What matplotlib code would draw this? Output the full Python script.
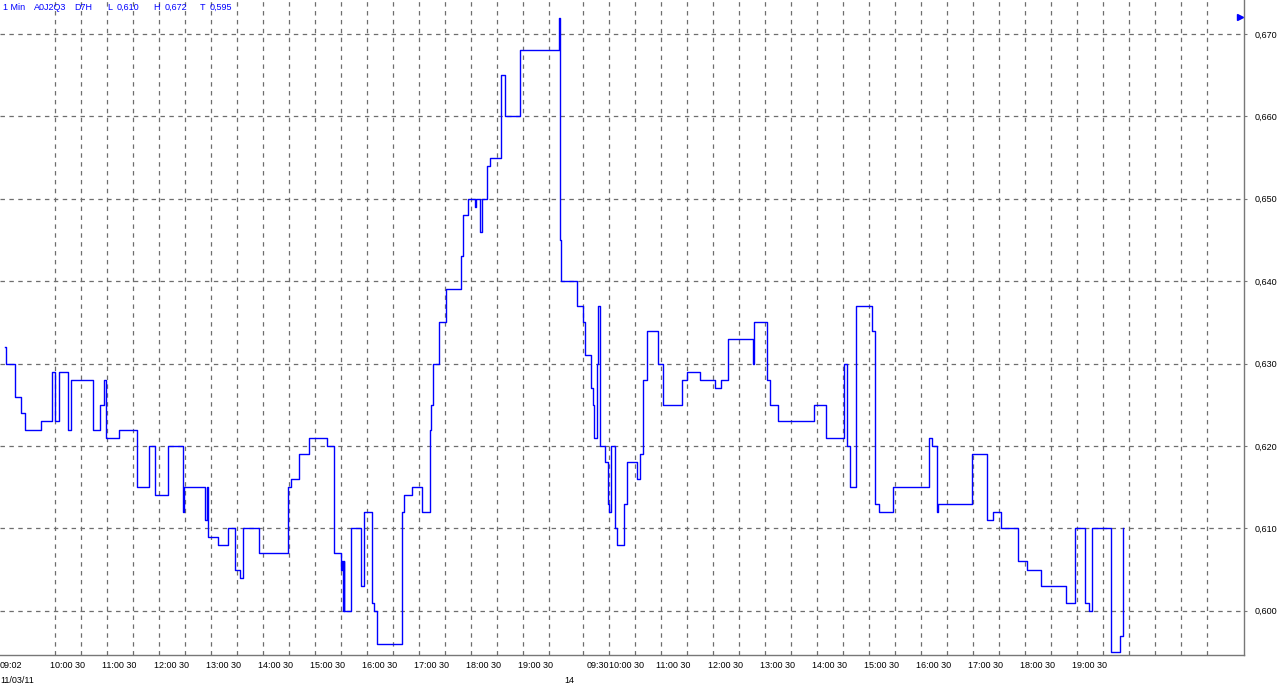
import matplotlib
matplotlib.use('Agg')
import matplotlib.pyplot as plt
import matplotlib.transforms as mtransforms

plt.rcParams['font.family'] = ['Liberation Sans', 'DejaVu Sans']
plt.rcParams['lines.scale_dashes'] = False

# --- data: 1 min ticks, A0J2Q3, two sessions (11/03/11 and 14/03/11) ---
day1_times = ["09:02", "09:03", "09:14", "09:21", "09:25", "09:44", "09:56", "10:00", "10:05", "10:15",
              "10:19", "10:44", "10:52", "10:56", "10:59", "11:14", "11:35", "11:49", "11:55", "12:10",
              "12:28", "12:29", "12:53", "12:55", "12:57", "13:08", "13:20", "13:28", "13:34", "13:37",
              "13:55", "14:29", "14:32", "14:42", "14:53", "15:14", "15:22", "15:30", "15:31", "15:32",
              "15:33", "15:34", "15:41", "15:53", "15:57", "16:06", "16:08", "16:11", "16:40", "16:43",
              "16:52", "17:04", "17:13", "17:14", "17:16", "17:23", "17:31", "17:49", "17:51", "17:57",
              "18:05", "18:06", "18:10", "18:13", "18:19", "18:22", "18:35", "18:39", "18:57"]
day1_prices = [0.632, 0.630, 0.626, 0.624, 0.622, 0.623, 0.629, 0.623, 0.629, 0.622,
               0.628, 0.622, 0.625, 0.628, 0.621, 0.622, 0.615, 0.620, 0.614, 0.620,
               0.612, 0.615, 0.611, 0.615, 0.609, 0.608, 0.610, 0.605, 0.604, 0.610,
               0.607, 0.615, 0.616, 0.619, 0.621, 0.620, 0.607, 0.605, 0.606, 0.600,
               0.606, 0.600, 0.610, 0.603, 0.612, 0.601, 0.600, 0.596, 0.612, 0.614,
               0.615, 0.612, 0.622, 0.625, 0.630, 0.635, 0.639, 0.643, 0.648, 0.650,
               0.649, 0.650, 0.646, 0.650, 0.654, 0.655, 0.665, 0.660, 0.668]

day2_times = ["09:03", "09:04", "09:05", "09:23", "09:30", "09:33", "09:39", "09:42", "09:43", "09:46",
              "09:47", "09:50", "09:56", "09:59", "10:00", "10:02", "10:07", "10:10", "10:17", "10:21",
              "10:32", "10:36", "10:40", "10:44", "10:57", "11:03", "11:24", "11:30", "11:45", "12:03",
              "12:10", "12:17", "12:46", "12:48", "13:03", "13:06", "13:15", "13:57", "14:11", "14:31",
              "14:35", "14:38", "14:45", "15:04", "15:07", "15:12", "15:28", "16:10", "16:13", "16:19",
              "16:20", "16:59", "17:16", "17:23", "17:32", "17:52", "18:02", "18:19", "18:47", "18:58",
              "19:10", "19:14", "19:18", "19:40", "19:50", "19:53"]
day2_prices = [0.672, 0.645, 0.640, 0.637, 0.635, 0.631, 0.627, 0.625, 0.621, 0.630,
               0.637, 0.620, 0.618, 0.613, 0.612, 0.620, 0.610, 0.608, 0.613, 0.618,
               0.616, 0.619, 0.628, 0.634, 0.630, 0.625, 0.628, 0.629, 0.628, 0.627,
               0.628, 0.633, 0.630, 0.635, 0.628, 0.625, 0.623, 0.625, 0.621, 0.630,
               0.620, 0.615, 0.637, 0.634, 0.613, 0.612, 0.615, 0.621, 0.620, 0.612,
               0.613, 0.619, 0.611, 0.612, 0.610, 0.606, 0.605, 0.603, 0.601, 0.610,
               0.601, 0.600, 0.610, 0.595, 0.597, 0.610]

price_ticks = [0.600, 0.610, 0.620, 0.630, 0.640, 0.650, 0.660, 0.670]
day1_hours = list(range(10, 20))
day2_hours = list(range(11, 20))
header = [(3, "1 Min"), (34, "A0J2Q3"), (74, "D7H"), (107, "L"), (117, "0,610"),
          (153, "H"), (165, "0,672"), (200, "T"), (210, "0,595")]

DAY2_OFFSET = 639          # axis minutes where 09:00 of the second session sits
PX_PER_MIN = 52 / 60


def to_min(s):
    h, m = s.split(':')
    return int(h) * 60 + int(m) - 9 * 60


x = [to_min(t) for t in day1_times] + [DAY2_OFFSET + to_min(t) for t in day2_times]
y = day1_prices + day2_prices

W, H = 1280, 686
fig = plt.figure(figsize=(W / 100, H / 100), dpi=100)
ax = fig.add_axes([0, 1 - 655 / H, 1244 / W, 655 / H])

ax.set_xlim(-3 / PX_PER_MIN, 1241 / PX_PER_MIN)
ax.set_ylim(0.670 - 621 / 82.4 * 0.01, 0.670 + 34 / 82.4 * 0.01)

grid_kw = dict(color='#6e6e6e', lw=0.9, ls=(0, (3.2, 3.2)), zorder=1)
for v in price_ticks:
    ax.axhline(v, **grid_kw)
for g in range(60, 631, 30):
    ax.axvline(g, **grid_kw)
for g in range(DAY2_OFFSET + 30, DAY2_OFFSET + 751, 30):
    ax.axvline(g, **grid_kw)

ax.step(x, y, where='post', color='#0000ff', lw=1.0, zorder=3)

# last-high flag at the right edge
ax.plot([1427], [0.6721], marker='>', color='#0000ff', ms=4, clip_on=False, zorder=4)

for s in ['top', 'left']:
    ax.spines[s].set_visible(False)
for s in ['bottom', 'right']:
    ax.spines[s].set_color('#777777')
    ax.spines[s].set_linewidth(1.0)

ax.set_xticks([])
ax.yaxis.tick_right()
ax.set_yticks(price_ticks)
ax.set_yticklabels([f"{v:.3f}".replace('.', ',') for v in price_ticks])
ax.tick_params(axis='y', length=2.5, width=0.8, color='#777777', pad=5, labelsize=6.5)

# time labels under the axis
trans = mtransforms.blended_transform_factory(ax.transData, fig.transFigure)
lab_y = 1 - 668.5 / H
date_y = 1 - 683 / H
shift = 4.5 / PX_PER_MIN
fs = 6.5
kw = dict(transform=trans, fontsize=fs, va='baseline', ha='left')

ax.text(-3 / PX_PER_MIN, lab_y, "09:02", **kw)
ax.text(-3 / PX_PER_MIN, date_y, "11/03/11", **kw)
for h in day1_hours:
    ax.text((h - 9) * 60 - shift, lab_y, f"{h:02d}:00 30", **kw)
ax.text((586.7 - 3) / PX_PER_MIN, lab_y, "09:30", **kw)
ax.text((609.3 - 3) / PX_PER_MIN, lab_y, "10:00 30", **kw)
for h in day2_hours:
    ax.text(DAY2_OFFSET + (h - 9) * 60 - shift, lab_y, f"{h:02d}:00 30", **kw)
ax.text((564 - 3) / PX_PER_MIN, date_y, "14", **kw)

for px, txt in header:
    fig.text(px / W, 1 - 9.5 / H, txt, color='#0000ff', fontsize=fs, va='baseline', ha='left')

fig.savefig('out.png', dpi=100, facecolor='white')
